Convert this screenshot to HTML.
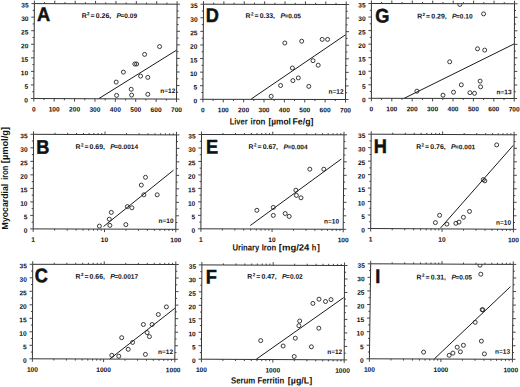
<!DOCTYPE html><html><head><meta charset="utf-8"><style>html,body{margin:0;padding:0;background:#fff;width:520px;height:387px;overflow:hidden}svg{display:block}text{font-family:"Liberation Sans",sans-serif;fill:#111}.b{font-weight:bold}</style></head><body>
<svg width="520" height="387" viewBox="0 0 520 387">
<rect width="520" height="387" fill="#fff"/>
<path d="M30.80 98.50H33.80M176.50 99.10H179.50M32.24 91.72H33.84M176.54 92.32H178.14M30.89 84.94H33.89M176.59 85.54H179.59M32.33 78.16H33.93M176.63 78.76H178.23M30.97 71.39H33.97M176.67 71.99H179.67M32.41 64.61H34.01M176.71 65.21H178.31M31.06 57.83H34.06M176.76 58.43H179.76M32.50 51.05H34.10M176.80 51.65H178.40M31.14 44.27H34.14M176.84 44.87H179.84M32.59 37.49H34.19M176.89 38.09H178.49M31.23 30.71H34.23M176.93 31.31H179.93M32.67 23.94H34.27M176.97 24.54H178.57M31.31 17.16H34.31M177.01 17.76H180.01M32.76 10.38H34.36M177.06 10.98H178.66M31.40 3.60H34.40M177.10 4.20H180.10M33.80 98.50V101.50M34.40 0.60V3.60M43.99 98.54V100.14M44.59 2.04V3.64M54.19 98.59V101.59M54.79 0.69V3.69M64.38 98.63V100.23M64.98 2.13V3.73M74.57 98.67V101.67M75.17 0.77V3.77M84.76 98.71V100.31M85.36 2.21V3.81M94.96 98.76V101.76M95.56 0.86V3.86M105.15 98.80V100.40M105.75 2.30V3.90M115.34 98.84V101.84M115.94 0.94V3.94M125.54 98.89V100.49M126.14 2.39V3.99M135.73 98.93V101.93M136.33 1.03V4.03M145.92 98.97V100.57M146.52 2.47V4.07M156.11 99.01V102.01M156.71 1.11V4.11M166.31 99.06V100.66M166.91 2.56V4.16M176.50 99.10V102.10M177.10 1.20V4.20" stroke="#333" stroke-width="0.9" fill="none"/>
<path d="M34.40 3.60L177.10 4.20L176.50 99.10L33.80 98.50Z" fill="none" stroke="#333" stroke-width="1.0"/>
<g transform="matrix(1,0.001,0,1,0,0)"><text x="28.00" y="102.372" font-size="6.60" class="b" text-anchor="end">0</text></g>
<g transform="matrix(1,0.001,0,1,0,0)"><text x="28.09" y="88.812" font-size="6.60" class="b" text-anchor="end">5</text></g>
<g transform="matrix(1,0.001,0,1,0,0)"><text x="28.17" y="75.262" font-size="6.60" class="b" text-anchor="end">10</text></g>
<g transform="matrix(1,0.001,0,1,0,0)"><text x="28.26" y="61.702" font-size="6.60" class="b" text-anchor="end">15</text></g>
<g transform="matrix(1,0.001,0,1,0,0)"><text x="28.34" y="48.142" font-size="6.60" class="b" text-anchor="end">20</text></g>
<g transform="matrix(1,0.001,0,1,0,0)"><text x="28.43" y="34.582" font-size="6.60" class="b" text-anchor="end">25</text></g>
<g transform="matrix(1,0.001,0,1,0,0)"><text x="28.51" y="21.031" font-size="6.60" class="b" text-anchor="end">30</text></g>
<g transform="matrix(1,0.001,0,1,0,0)"><text x="28.60" y="7.471" font-size="6.60" class="b" text-anchor="end">35</text></g>
<g transform="matrix(1,0.001,0,1,0,0)"><text x="33.80" y="111.366" font-size="6.60" class="b" text-anchor="middle">0</text></g>
<g transform="matrix(1,0.001,0,1,0,0)"><text x="54.19" y="111.436" font-size="6.60" class="b" text-anchor="middle">100</text></g>
<g transform="matrix(1,0.001,0,1,0,0)"><text x="74.57" y="111.495" font-size="6.60" class="b" text-anchor="middle">200</text></g>
<g transform="matrix(1,0.001,0,1,0,0)"><text x="94.96" y="111.565" font-size="6.60" class="b" text-anchor="middle">300</text></g>
<g transform="matrix(1,0.001,0,1,0,0)"><text x="115.34" y="111.625" font-size="6.60" class="b" text-anchor="middle">400</text></g>
<g transform="matrix(1,0.001,0,1,0,0)"><text x="135.73" y="111.694" font-size="6.60" class="b" text-anchor="middle">500</text></g>
<g transform="matrix(1,0.001,0,1,0,0)"><text x="156.11" y="111.754" font-size="6.60" class="b" text-anchor="middle">600</text></g>
<g transform="matrix(1,0.001,0,1,0,0)"><text x="176.50" y="111.823" font-size="6.60" class="b" text-anchor="middle">700</text></g>
<g transform="matrix(1,0.001,0,1,0,0)"><text x="43.65" y="20.856" font-size="19.80" font-weight="bold" stroke="#111" stroke-width="0.5" text-anchor="middle" transform="matrix(0.920,0,0,1,3.492,0)">A</text></g>
<g transform="matrix(1,0.001,0,1,0,0)"><text y="17.818" font-size="6.90" class="b"><tspan x="81.70">R</tspan><tspan x="87.10" dy="-2.6" font-size="4.55">2</tspan><tspan x="90.60" dy="2.6">=</tspan><tspan x="95.80">0.26,</tspan><tspan x="116.50" font-style="italic">P</tspan><tspan x="120.50" font-size="6.55">=0.09</tspan></text></g>
<g transform="matrix(1,0.001,0,1,0,0)"><text x="175.30" y="92.925" font-size="6.50" class="b" text-anchor="end">n=12</text></g>
<line x1="98.80" y1="98.60" x2="176.50" y2="50.20" stroke="#1a1a1a" stroke-width="1"/>
<clipPath id="cA"><path d="M34.40 3.60L177.10 4.20L176.50 99.10L33.80 98.50Z"/></clipPath><g clip-path="url(#cA)">
<circle cx="159.60" cy="46.60" r="2.0" fill="none" stroke="#1a1a1a" stroke-width="0.85"/>
<circle cx="144.60" cy="54.40" r="2.0" fill="none" stroke="#1a1a1a" stroke-width="0.85"/>
<circle cx="134.80" cy="64.00" r="2.0" fill="none" stroke="#1a1a1a" stroke-width="0.85"/>
<circle cx="136.60" cy="64.00" r="2.0" fill="none" stroke="#1a1a1a" stroke-width="0.85"/>
<circle cx="123.40" cy="72.10" r="2.0" fill="none" stroke="#1a1a1a" stroke-width="0.85"/>
<circle cx="140.60" cy="76.10" r="2.0" fill="none" stroke="#1a1a1a" stroke-width="0.85"/>
<circle cx="147.80" cy="77.40" r="2.0" fill="none" stroke="#1a1a1a" stroke-width="0.85"/>
<circle cx="116.20" cy="82.10" r="2.0" fill="none" stroke="#1a1a1a" stroke-width="0.85"/>
<circle cx="131.20" cy="89.30" r="2.0" fill="none" stroke="#1a1a1a" stroke-width="0.85"/>
<circle cx="116.60" cy="95.40" r="2.0" fill="none" stroke="#1a1a1a" stroke-width="0.85"/>
<circle cx="131.60" cy="95.10" r="2.0" fill="none" stroke="#1a1a1a" stroke-width="0.85"/>
<circle cx="147.80" cy="94.30" r="2.0" fill="none" stroke="#1a1a1a" stroke-width="0.85"/>
</g>
<path d="M199.90 99.30H202.90M345.50 99.50H348.50M201.34 92.51H202.94M345.55 92.71H347.15M199.99 85.71H202.99M345.60 85.93H348.60M201.43 78.92H203.03M345.65 79.14H347.25M200.07 72.13H203.07M345.70 72.36H348.70M201.51 65.34H203.11M345.75 65.57H347.35M200.16 58.54H203.16M345.80 58.79H348.80M201.60 51.75H203.20M345.85 52.00H347.45M200.24 44.96H203.24M345.90 45.21H348.90M201.69 38.16H203.29M345.95 38.43H347.55M200.33 31.37H203.33M346.00 31.64H349.00M201.77 24.58H203.37M346.05 24.86H347.65M200.41 17.79H203.41M346.10 18.07H349.10M201.86 10.99H203.46M346.15 11.29H347.75M200.50 4.20H203.50M346.20 4.50H349.20M202.90 99.30V102.30M203.50 1.20V4.20M213.09 99.31V100.91M213.69 2.62V4.22M223.27 99.33V102.33M223.89 1.24V4.24M233.46 99.34V100.94M234.08 2.66V4.26M243.64 99.36V102.36M244.27 1.29V4.29M253.83 99.37V100.97M254.46 2.71V4.31M264.01 99.39V102.39M264.66 1.33V4.33M274.20 99.40V101.00M274.85 2.75V4.35M284.39 99.41V102.41M285.04 1.37V4.37M294.57 99.43V101.03M295.24 2.79V4.39M304.76 99.44V102.44M305.43 1.41V4.41M314.94 99.46V101.06M315.62 2.84V4.44M325.13 99.47V102.47M325.81 1.46V4.46M335.31 99.49V101.09M336.01 2.88V4.48M345.50 99.50V102.50M346.20 1.50V4.50" stroke="#333" stroke-width="0.9" fill="none"/>
<path d="M203.50 4.20L346.20 4.50L345.50 99.50L202.90 99.30Z" fill="none" stroke="#333" stroke-width="1.0"/>
<g transform="matrix(1,0.001,0,1,0,0)"><text x="197.10" y="103.003" font-size="6.60" class="b" text-anchor="end">0</text></g>
<g transform="matrix(1,0.001,0,1,0,0)"><text x="197.19" y="89.413" font-size="6.60" class="b" text-anchor="end">5</text></g>
<g transform="matrix(1,0.001,0,1,0,0)"><text x="197.27" y="75.833" font-size="6.60" class="b" text-anchor="end">10</text></g>
<g transform="matrix(1,0.001,0,1,0,0)"><text x="197.36" y="62.243" font-size="6.60" class="b" text-anchor="end">15</text></g>
<g transform="matrix(1,0.001,0,1,0,0)"><text x="197.44" y="48.663" font-size="6.60" class="b" text-anchor="end">20</text></g>
<g transform="matrix(1,0.001,0,1,0,0)"><text x="197.53" y="35.072" font-size="6.60" class="b" text-anchor="end">25</text></g>
<g transform="matrix(1,0.001,0,1,0,0)"><text x="197.61" y="21.492" font-size="6.60" class="b" text-anchor="end">30</text></g>
<g transform="matrix(1,0.001,0,1,0,0)"><text x="197.70" y="7.902" font-size="6.60" class="b" text-anchor="end">35</text></g>
<g transform="matrix(1,0.001,0,1,0,0)"><text x="202.90" y="111.997" font-size="6.60" class="b" text-anchor="middle">0</text></g>
<g transform="matrix(1,0.001,0,1,0,0)"><text x="223.27" y="112.007" font-size="6.60" class="b" text-anchor="middle">100</text></g>
<g transform="matrix(1,0.001,0,1,0,0)"><text x="243.64" y="112.016" font-size="6.60" class="b" text-anchor="middle">200</text></g>
<g transform="matrix(1,0.001,0,1,0,0)"><text x="264.01" y="112.026" font-size="6.60" class="b" text-anchor="middle">300</text></g>
<g transform="matrix(1,0.001,0,1,0,0)"><text x="284.39" y="112.026" font-size="6.60" class="b" text-anchor="middle">400</text></g>
<g transform="matrix(1,0.001,0,1,0,0)"><text x="304.76" y="112.035" font-size="6.60" class="b" text-anchor="middle">500</text></g>
<g transform="matrix(1,0.001,0,1,0,0)"><text x="325.13" y="112.045" font-size="6.60" class="b" text-anchor="middle">600</text></g>
<g transform="matrix(1,0.001,0,1,0,0)"><text x="345.50" y="112.055" font-size="6.60" class="b" text-anchor="middle">700</text></g>
<g transform="matrix(1,0.001,0,1,0,0)"><text x="212.35" y="21.688" font-size="19.80" font-weight="bold" stroke="#111" stroke-width="0.5" text-anchor="middle" transform="matrix(0.920,0,0,1,16.988,0)">D</text></g>
<g transform="matrix(1,0.001,0,1,0,0)"><text y="17.854" font-size="6.90" class="b"><tspan x="245.60">R</tspan><tspan x="251.00" dy="-2.6" font-size="4.55">2</tspan><tspan x="254.50" dy="2.6">=</tspan><tspan x="259.70">0.33,</tspan><tspan x="280.40" font-style="italic">P</tspan><tspan x="284.40" font-size="6.55">=0.05</tspan></text></g>
<g transform="matrix(1,0.001,0,1,0,0)"><text x="343.50" y="93.456" font-size="6.50" class="b" text-anchor="end">n=12</text></g>
<line x1="251.20" y1="99.00" x2="345.50" y2="34.80" stroke="#1a1a1a" stroke-width="1"/>
<clipPath id="cD"><path d="M203.50 4.20L346.20 4.50L345.50 99.50L202.90 99.30Z"/></clipPath><g clip-path="url(#cD)">
<circle cx="284.80" cy="43.00" r="2.0" fill="none" stroke="#1a1a1a" stroke-width="0.85"/>
<circle cx="301.70" cy="41.20" r="2.0" fill="none" stroke="#1a1a1a" stroke-width="0.85"/>
<circle cx="322.20" cy="39.40" r="2.0" fill="none" stroke="#1a1a1a" stroke-width="0.85"/>
<circle cx="327.60" cy="39.40" r="2.0" fill="none" stroke="#1a1a1a" stroke-width="0.85"/>
<circle cx="313.00" cy="60.70" r="2.0" fill="none" stroke="#1a1a1a" stroke-width="0.85"/>
<circle cx="318.20" cy="65.20" r="2.0" fill="none" stroke="#1a1a1a" stroke-width="0.85"/>
<circle cx="292.40" cy="68.00" r="2.0" fill="none" stroke="#1a1a1a" stroke-width="0.85"/>
<circle cx="298.30" cy="77.90" r="2.0" fill="none" stroke="#1a1a1a" stroke-width="0.85"/>
<circle cx="292.90" cy="80.60" r="2.0" fill="none" stroke="#1a1a1a" stroke-width="0.85"/>
<circle cx="280.60" cy="85.50" r="2.0" fill="none" stroke="#1a1a1a" stroke-width="0.85"/>
<circle cx="308.80" cy="86.40" r="2.0" fill="none" stroke="#1a1a1a" stroke-width="0.85"/>
<circle cx="271.20" cy="96.30" r="2.0" fill="none" stroke="#1a1a1a" stroke-width="0.85"/>
</g>
<path d="M368.40 98.30H371.40M514.20 98.50H517.20M369.80 91.53H371.40M514.22 91.73H515.82M368.40 84.76H371.40M514.24 84.96H517.24M369.80 77.99H371.40M514.26 78.20H515.86M368.40 71.21H371.40M514.29 71.43H517.29M369.80 64.44H371.40M514.31 64.66H515.91M368.40 57.67H371.40M514.33 57.89H517.33M369.80 50.90H371.40M514.35 51.12H515.95M368.40 44.13H371.40M514.37 44.36H517.37M369.80 37.36H371.40M514.39 37.59H515.99M368.40 30.59H371.40M514.41 30.82H517.41M369.80 23.81H371.40M514.44 24.05H516.04M368.40 17.04H371.40M514.46 17.29H517.46M369.80 10.27H371.40M514.48 10.52H516.08M368.40 3.50H371.40M514.50 3.75H517.50M371.40 98.30V101.30M371.40 0.50V3.50M381.60 98.31V99.91M381.62 1.92V3.52M391.80 98.33V101.33M391.84 0.54V3.54M402.00 98.34V99.94M402.06 1.95V3.55M412.20 98.36V101.36M412.29 0.57V3.57M422.40 98.37V99.97M422.51 1.99V3.59M432.60 98.39V101.39M432.73 0.61V3.61M442.80 98.40V100.00M442.95 2.02V3.62M453.00 98.41V101.41M453.17 0.64V3.64M463.20 98.43V100.03M463.39 2.06V3.66M473.40 98.44V101.44M473.61 0.68V3.68M483.60 98.46V100.06M483.84 2.10V3.70M493.80 98.47V101.47M494.06 0.71V3.71M504.00 98.49V100.09M504.28 2.13V3.73M514.20 98.50V101.50M514.50 0.75V3.75" stroke="#333" stroke-width="0.9" fill="none"/>
<path d="M371.40 3.50L514.50 3.75L514.20 98.50L371.40 98.30Z" fill="none" stroke="#333" stroke-width="1.0"/>
<g transform="matrix(1,0.001,0,1,0,0)"><text x="365.60" y="101.834" font-size="6.60" class="b" text-anchor="end">0</text></g>
<g transform="matrix(1,0.001,0,1,0,0)"><text x="365.60" y="88.294" font-size="6.60" class="b" text-anchor="end">5</text></g>
<g transform="matrix(1,0.001,0,1,0,0)"><text x="365.60" y="74.744" font-size="6.60" class="b" text-anchor="end">10</text></g>
<g transform="matrix(1,0.001,0,1,0,0)"><text x="365.60" y="61.204" font-size="6.60" class="b" text-anchor="end">15</text></g>
<g transform="matrix(1,0.001,0,1,0,0)"><text x="365.60" y="47.664" font-size="6.60" class="b" text-anchor="end">20</text></g>
<g transform="matrix(1,0.001,0,1,0,0)"><text x="365.60" y="34.124" font-size="6.60" class="b" text-anchor="end">25</text></g>
<g transform="matrix(1,0.001,0,1,0,0)"><text x="365.60" y="20.574" font-size="6.60" class="b" text-anchor="end">30</text></g>
<g transform="matrix(1,0.001,0,1,0,0)"><text x="365.60" y="7.034" font-size="6.60" class="b" text-anchor="end">35</text></g>
<g transform="matrix(1,0.001,0,1,0,0)"><text x="371.40" y="110.829" font-size="6.60" class="b" text-anchor="middle">0</text></g>
<g transform="matrix(1,0.001,0,1,0,0)"><text x="391.80" y="110.838" font-size="6.60" class="b" text-anchor="middle">100</text></g>
<g transform="matrix(1,0.001,0,1,0,0)"><text x="412.20" y="110.848" font-size="6.60" class="b" text-anchor="middle">200</text></g>
<g transform="matrix(1,0.001,0,1,0,0)"><text x="432.60" y="110.857" font-size="6.60" class="b" text-anchor="middle">300</text></g>
<g transform="matrix(1,0.001,0,1,0,0)"><text x="453.00" y="110.857" font-size="6.60" class="b" text-anchor="middle">400</text></g>
<g transform="matrix(1,0.001,0,1,0,0)"><text x="473.40" y="110.867" font-size="6.60" class="b" text-anchor="middle">500</text></g>
<g transform="matrix(1,0.001,0,1,0,0)"><text x="493.80" y="110.876" font-size="6.60" class="b" text-anchor="middle">600</text></g>
<g transform="matrix(1,0.001,0,1,0,0)"><text x="514.20" y="110.886" font-size="6.60" class="b" text-anchor="middle">700</text></g>
<g transform="matrix(1,0.001,0,1,0,0)"><text x="382.40" y="22.218" font-size="19.80" font-weight="bold" stroke="#111" stroke-width="0.5" text-anchor="middle" transform="matrix(0.920,0,0,1,30.592,0)">G</text></g>
<g transform="matrix(1,0.001,0,1,0,0)"><text y="18.083" font-size="6.90" class="b"><tspan x="417.20">R</tspan><tspan x="422.60" dy="-2.6" font-size="4.55">2</tspan><tspan x="426.10" dy="2.6">=</tspan><tspan x="431.30">0.29,</tspan><tspan x="452.00" font-style="italic">P</tspan><tspan x="456.00" font-size="6.55">=0.10</tspan></text></g>
<g transform="matrix(1,0.001,0,1,0,0)"><text x="511.50" y="93.689" font-size="6.50" class="b" text-anchor="end">n=13</text></g>
<line x1="404.20" y1="98.30" x2="514.20" y2="43.90" stroke="#1a1a1a" stroke-width="1"/>
<clipPath id="cG"><path d="M371.40 3.50L514.50 3.75L514.20 98.50L371.40 98.30Z"/></clipPath><g clip-path="url(#cG)">
<circle cx="459.80" cy="4.40" r="2.0" fill="none" stroke="#1a1a1a" stroke-width="0.85"/>
<circle cx="483.60" cy="13.90" r="2.0" fill="none" stroke="#1a1a1a" stroke-width="0.85"/>
<circle cx="477.50" cy="48.80" r="2.0" fill="none" stroke="#1a1a1a" stroke-width="0.85"/>
<circle cx="484.70" cy="50.10" r="2.0" fill="none" stroke="#1a1a1a" stroke-width="0.85"/>
<circle cx="449.70" cy="61.80" r="2.0" fill="none" stroke="#1a1a1a" stroke-width="0.85"/>
<circle cx="480.10" cy="81.10" r="2.0" fill="none" stroke="#1a1a1a" stroke-width="0.85"/>
<circle cx="461.30" cy="84.80" r="2.0" fill="none" stroke="#1a1a1a" stroke-width="0.85"/>
<circle cx="480.60" cy="86.80" r="2.0" fill="none" stroke="#1a1a1a" stroke-width="0.85"/>
<circle cx="416.90" cy="91.20" r="2.0" fill="none" stroke="#1a1a1a" stroke-width="0.85"/>
<circle cx="453.50" cy="92.20" r="2.0" fill="none" stroke="#1a1a1a" stroke-width="0.85"/>
<circle cx="469.90" cy="92.70" r="2.0" fill="none" stroke="#1a1a1a" stroke-width="0.85"/>
<circle cx="474.50" cy="93.30" r="2.0" fill="none" stroke="#1a1a1a" stroke-width="0.85"/>
<circle cx="443.00" cy="95.20" r="2.0" fill="none" stroke="#1a1a1a" stroke-width="0.85"/>
</g>
<path d="M30.20 228.90H33.20M175.80 229.30H178.80M31.62 222.14H33.22M175.85 222.56H177.45M30.24 215.39H33.24M175.90 215.81H178.90M31.66 208.63H33.26M175.95 209.07H177.55M30.29 201.87H33.29M176.00 202.33H179.00M31.71 195.11H33.31M176.05 195.59H177.65M30.33 188.36H33.33M176.10 188.84H179.10M31.75 181.60H33.35M176.15 182.10H177.75M30.37 174.84H33.37M176.20 175.36H179.20M31.79 168.09H33.39M176.25 168.61H177.85M30.41 161.33H33.41M176.30 161.87H179.30M31.84 154.57H33.44M176.35 155.13H177.95M30.46 147.81H33.46M176.40 148.39H179.40M31.88 141.06H33.48M176.45 141.64H178.05M30.50 134.30H33.50M176.50 134.90H179.50M33.20 228.90V231.90M33.50 131.30V134.30M54.66 228.96V230.56M55.02 132.79V134.39M67.22 229.00V230.60M67.61 132.84V134.44M76.13 229.02V230.62M76.55 132.88V134.48M83.04 229.04V230.64M83.48 132.91V134.51M88.68 229.06V230.66M89.14 132.93V134.53M93.46 229.07V230.67M93.92 132.95V134.55M97.59 229.08V230.68M98.07 132.97V134.57M101.24 229.09V230.69M101.73 132.99V134.59M104.50 229.10V232.10M105.00 131.60V134.60M125.96 229.16V230.76M126.52 133.09V134.69M138.52 229.20V230.80M139.11 133.14V134.74M147.43 229.22V230.82M148.05 133.18V134.78M154.34 229.24V230.84M154.98 133.21V134.81M159.98 229.26V230.86M160.64 133.23V134.83M164.76 229.27V230.87M165.42 133.25V134.85M168.89 229.28V230.88M169.57 133.27V134.87M172.54 229.29V230.89M173.23 133.29V134.89M175.80 229.30V232.30M176.50 131.90V134.90" stroke="#333" stroke-width="0.9" fill="none"/>
<path d="M33.50 134.30L176.50 134.90L175.80 229.30L33.20 228.90Z" fill="none" stroke="#333" stroke-width="1.0"/>
<g transform="matrix(1,0.001,0,1,0,0)"><text x="27.40" y="232.773" font-size="6.60" class="b" text-anchor="end">0</text></g>
<g transform="matrix(1,0.001,0,1,0,0)"><text x="27.44" y="219.263" font-size="6.60" class="b" text-anchor="end">5</text></g>
<g transform="matrix(1,0.001,0,1,0,0)"><text x="27.49" y="205.743" font-size="6.60" class="b" text-anchor="end">10</text></g>
<g transform="matrix(1,0.001,0,1,0,0)"><text x="27.53" y="192.232" font-size="6.60" class="b" text-anchor="end">15</text></g>
<g transform="matrix(1,0.001,0,1,0,0)"><text x="27.57" y="178.712" font-size="6.60" class="b" text-anchor="end">20</text></g>
<g transform="matrix(1,0.001,0,1,0,0)"><text x="27.61" y="165.202" font-size="6.60" class="b" text-anchor="end">25</text></g>
<g transform="matrix(1,0.001,0,1,0,0)"><text x="27.66" y="151.682" font-size="6.60" class="b" text-anchor="end">30</text></g>
<g transform="matrix(1,0.001,0,1,0,0)"><text x="27.70" y="138.172" font-size="6.60" class="b" text-anchor="end">35</text></g>
<g transform="matrix(1,0.001,0,1,0,0)"><text x="33.20" y="241.767" font-size="6.60" class="b" text-anchor="middle">1</text></g>
<g transform="matrix(1,0.001,0,1,0,0)"><text x="104.50" y="241.895" font-size="6.60" class="b" text-anchor="middle">10</text></g>
<g transform="matrix(1,0.001,0,1,0,0)"><text x="175.80" y="242.024" font-size="6.60" class="b" text-anchor="middle">100</text></g>
<g transform="matrix(1,0.001,0,1,0,0)"><text x="42.75" y="153.657" font-size="19.80" font-weight="bold" stroke="#111" stroke-width="0.5" text-anchor="middle" transform="matrix(0.920,0,0,1,3.420,0)">B</text></g>
<g transform="matrix(1,0.001,0,1,0,0)"><text y="148.924" font-size="6.90" class="b"><tspan x="75.50">R</tspan><tspan x="80.90" dy="-2.6" font-size="4.55">2</tspan><tspan x="84.40" dy="2.6">=</tspan><tspan x="89.60">0.69,</tspan><tspan x="110.30" font-style="italic">P</tspan><tspan x="114.30" font-size="6.55">=0.0014</tspan></text></g>
<g transform="matrix(1,0.001,0,1,0,0)"><text x="173.60" y="222.826" font-size="6.50" class="b" text-anchor="end">n=10</text></g>
<line x1="103.60" y1="226.50" x2="173.50" y2="170.20" stroke="#1a1a1a" stroke-width="1"/>
<clipPath id="cB"><path d="M33.50 134.30L176.50 134.90L175.80 229.30L33.20 228.90Z"/></clipPath><g clip-path="url(#cB)">
<circle cx="145.50" cy="177.30" r="2.0" fill="none" stroke="#1a1a1a" stroke-width="0.85"/>
<circle cx="141.30" cy="185.10" r="2.0" fill="none" stroke="#1a1a1a" stroke-width="0.85"/>
<circle cx="143.90" cy="194.80" r="2.0" fill="none" stroke="#1a1a1a" stroke-width="0.85"/>
<circle cx="157.20" cy="194.80" r="2.0" fill="none" stroke="#1a1a1a" stroke-width="0.85"/>
<circle cx="127.40" cy="206.60" r="2.0" fill="none" stroke="#1a1a1a" stroke-width="0.85"/>
<circle cx="131.90" cy="207.80" r="2.0" fill="none" stroke="#1a1a1a" stroke-width="0.85"/>
<circle cx="111.30" cy="212.40" r="2.0" fill="none" stroke="#1a1a1a" stroke-width="0.85"/>
<circle cx="109.30" cy="219.20" r="2.0" fill="none" stroke="#1a1a1a" stroke-width="0.85"/>
<circle cx="109.90" cy="225.40" r="2.0" fill="none" stroke="#1a1a1a" stroke-width="0.85"/>
<circle cx="99.40" cy="226.10" r="2.0" fill="none" stroke="#1a1a1a" stroke-width="0.85"/>
<circle cx="125.80" cy="224.60" r="2.0" fill="none" stroke="#1a1a1a" stroke-width="0.85"/>
</g>
<path d="M197.90 228.80H200.90M343.20 229.30H346.20M199.34 222.06H200.94M343.26 222.55H344.86M197.99 215.33H200.99M343.31 215.80H346.31M199.43 208.59H201.03M343.37 209.05H344.97M198.07 201.86H201.07M343.43 202.30H346.43M199.51 195.12H201.11M343.49 195.55H345.09M198.16 188.39H201.16M343.54 188.80H346.54M199.60 181.65H201.20M343.60 182.05H345.20M198.24 174.91H201.24M343.66 175.30H346.66M199.69 168.18H201.29M343.71 168.55H345.31M198.33 161.44H201.33M343.77 161.80H346.77M199.77 154.71H201.37M343.83 155.05H345.43M198.41 147.97H201.41M343.89 148.30H346.89M199.86 141.24H201.46M343.94 141.55H345.54M198.50 134.50H201.50M344.00 134.80H347.00M200.90 228.80V231.80M201.50 131.50V134.50M222.32 228.88V230.48M222.95 132.95V134.55M234.85 228.92V230.52M235.49 132.97V134.57M243.74 228.95V230.55M244.40 132.99V134.59M250.63 228.97V230.57M251.30 133.00V134.60M256.27 228.99V230.59M256.94 133.02V134.62M261.03 229.01V230.61M261.71 133.03V134.63M265.15 229.03V230.63M265.85 133.04V134.64M268.79 229.04V230.64M269.49 133.04V134.64M272.05 229.05V232.05M272.75 131.65V134.65M293.47 229.13V230.73M294.20 133.10V134.70M306.00 229.17V230.77M306.74 133.12V134.72M314.89 229.20V230.80M315.65 133.14V134.74M321.78 229.22V230.82M322.55 133.15V134.75M327.42 229.24V230.84M328.19 133.17V134.77M332.18 229.26V230.86M332.96 133.18V134.78M336.30 229.28V230.88M337.10 133.19V134.79M339.94 229.29V230.89M340.74 133.19V134.79M343.20 229.30V232.30M344.00 131.80V134.80" stroke="#333" stroke-width="0.9" fill="none"/>
<path d="M201.50 134.50L344.00 134.80L343.20 229.30L200.90 228.80Z" fill="none" stroke="#333" stroke-width="1.0"/>
<g transform="matrix(1,0.001,0,1,0,0)"><text x="195.10" y="232.505" font-size="6.60" class="b" text-anchor="end">0</text></g>
<g transform="matrix(1,0.001,0,1,0,0)"><text x="195.19" y="219.035" font-size="6.60" class="b" text-anchor="end">5</text></g>
<g transform="matrix(1,0.001,0,1,0,0)"><text x="195.27" y="205.565" font-size="6.60" class="b" text-anchor="end">10</text></g>
<g transform="matrix(1,0.001,0,1,0,0)"><text x="195.36" y="192.095" font-size="6.60" class="b" text-anchor="end">15</text></g>
<g transform="matrix(1,0.001,0,1,0,0)"><text x="195.44" y="178.615" font-size="6.60" class="b" text-anchor="end">20</text></g>
<g transform="matrix(1,0.001,0,1,0,0)"><text x="195.53" y="165.144" font-size="6.60" class="b" text-anchor="end">25</text></g>
<g transform="matrix(1,0.001,0,1,0,0)"><text x="195.61" y="151.674" font-size="6.60" class="b" text-anchor="end">30</text></g>
<g transform="matrix(1,0.001,0,1,0,0)"><text x="195.70" y="138.204" font-size="6.60" class="b" text-anchor="end">35</text></g>
<g transform="matrix(1,0.001,0,1,0,0)"><text x="200.90" y="241.499" font-size="6.60" class="b" text-anchor="middle">1</text></g>
<g transform="matrix(1,0.001,0,1,0,0)"><text x="272.05" y="241.678" font-size="6.60" class="b" text-anchor="middle">10</text></g>
<g transform="matrix(1,0.001,0,1,0,0)"><text x="343.20" y="241.857" font-size="6.60" class="b" text-anchor="middle">100</text></g>
<g transform="matrix(1,0.001,0,1,0,0)"><text x="212.20" y="153.188" font-size="19.80" font-weight="bold" stroke="#111" stroke-width="0.5" text-anchor="middle" transform="matrix(0.920,0,0,1,16.976,0)">E</text></g>
<g transform="matrix(1,0.001,0,1,0,0)"><text y="148.851" font-size="6.90" class="b"><tspan x="248.60">R</tspan><tspan x="254.00" dy="-2.6" font-size="4.55">2</tspan><tspan x="257.50" dy="2.6">=</tspan><tspan x="262.70">0.67,</tspan><tspan x="283.40" font-style="italic">P</tspan><tspan x="287.40" font-size="6.55">=0.004</tspan></text></g>
<g transform="matrix(1,0.001,0,1,0,0)"><text x="339.10" y="223.161" font-size="6.50" class="b" text-anchor="end">n=10</text></g>
<line x1="250.30" y1="225.50" x2="341.30" y2="159.00" stroke="#1a1a1a" stroke-width="1"/>
<clipPath id="cE"><path d="M201.50 134.50L344.00 134.80L343.20 229.30L200.90 228.80Z"/></clipPath><g clip-path="url(#cE)">
<circle cx="309.80" cy="169.20" r="2.0" fill="none" stroke="#1a1a1a" stroke-width="0.85"/>
<circle cx="323.80" cy="169.20" r="2.0" fill="none" stroke="#1a1a1a" stroke-width="0.85"/>
<circle cx="295.90" cy="190.20" r="2.0" fill="none" stroke="#1a1a1a" stroke-width="0.85"/>
<circle cx="296.40" cy="195.40" r="2.0" fill="none" stroke="#1a1a1a" stroke-width="0.85"/>
<circle cx="301.00" cy="197.80" r="2.0" fill="none" stroke="#1a1a1a" stroke-width="0.85"/>
<circle cx="256.90" cy="210.30" r="2.0" fill="none" stroke="#1a1a1a" stroke-width="0.85"/>
<circle cx="273.30" cy="207.40" r="2.0" fill="none" stroke="#1a1a1a" stroke-width="0.85"/>
<circle cx="273.30" cy="215.40" r="2.0" fill="none" stroke="#1a1a1a" stroke-width="0.85"/>
<circle cx="285.20" cy="213.50" r="2.0" fill="none" stroke="#1a1a1a" stroke-width="0.85"/>
<circle cx="289.20" cy="216.40" r="2.0" fill="none" stroke="#1a1a1a" stroke-width="0.85"/>
</g>
<path d="M367.70 228.50H370.70M513.40 229.30H516.40M369.14 221.76H370.74M513.45 222.55H515.05M367.77 215.03H370.77M513.50 215.80H516.50M369.21 208.29H370.81M513.55 209.05H515.15M367.84 201.56H370.84M513.60 202.30H516.60M369.28 194.82H370.88M513.65 195.55H515.25M367.91 188.09H370.91M513.70 188.80H516.70M369.35 181.35H370.95M513.75 182.05H515.35M367.99 174.61H370.99M513.80 175.30H516.80M369.42 167.88H371.02M513.85 168.55H515.45M368.06 161.14H371.06M513.90 161.80H516.90M369.49 154.41H371.09M513.95 155.05H515.55M368.13 147.67H371.13M514.00 148.30H517.00M369.56 140.94H371.16M514.05 141.55H515.65M368.20 134.20H371.20M514.10 134.80H517.10M370.70 228.50V231.50M371.20 131.20V134.20M392.18 228.62V230.22M392.71 132.69V134.29M404.74 228.69V230.29M405.29 132.74V134.34M413.66 228.74V230.34M414.22 132.78V134.38M420.57 228.78V230.38M421.14 132.81V134.41M426.22 228.81V230.41M426.80 132.83V134.43M431.00 228.84V230.44M431.58 132.85V134.45M435.14 228.86V230.46M435.73 132.87V134.47M438.79 228.88V230.48M439.38 132.89V134.49M442.05 228.90V231.90M442.65 131.50V134.50M463.53 229.02V230.62M464.16 132.99V134.59M476.09 229.09V230.69M476.74 133.04V134.64M485.01 229.14V230.74M485.67 133.08V134.68M491.92 229.18V230.78M492.59 133.11V134.71M497.57 229.21V230.81M498.25 133.13V134.73M502.35 229.24V230.84M503.03 133.15V134.75M506.49 229.26V230.86M507.18 133.17V134.77M510.14 229.28V230.88M510.83 133.19V134.79M513.40 229.30V232.30M514.10 131.80V134.80" stroke="#333" stroke-width="0.9" fill="none"/>
<path d="M371.20 134.20L514.10 134.80L513.40 229.30L370.70 228.50Z" fill="none" stroke="#333" stroke-width="1.0"/>
<g transform="matrix(1,0.001,0,1,0,0)"><text x="364.90" y="232.035" font-size="6.60" class="b" text-anchor="end">0</text></g>
<g transform="matrix(1,0.001,0,1,0,0)"><text x="364.97" y="218.565" font-size="6.60" class="b" text-anchor="end">5</text></g>
<g transform="matrix(1,0.001,0,1,0,0)"><text x="365.04" y="205.095" font-size="6.60" class="b" text-anchor="end">10</text></g>
<g transform="matrix(1,0.001,0,1,0,0)"><text x="365.11" y="191.625" font-size="6.60" class="b" text-anchor="end">15</text></g>
<g transform="matrix(1,0.001,0,1,0,0)"><text x="365.19" y="178.145" font-size="6.60" class="b" text-anchor="end">20</text></g>
<g transform="matrix(1,0.001,0,1,0,0)"><text x="365.26" y="164.675" font-size="6.60" class="b" text-anchor="end">25</text></g>
<g transform="matrix(1,0.001,0,1,0,0)"><text x="365.33" y="151.205" font-size="6.60" class="b" text-anchor="end">30</text></g>
<g transform="matrix(1,0.001,0,1,0,0)"><text x="365.40" y="137.735" font-size="6.60" class="b" text-anchor="end">35</text></g>
<g transform="matrix(1,0.001,0,1,0,0)"><text x="370.70" y="241.029" font-size="6.60" class="b" text-anchor="middle">1</text></g>
<g transform="matrix(1,0.001,0,1,0,0)"><text x="442.05" y="241.358" font-size="6.60" class="b" text-anchor="middle">10</text></g>
<g transform="matrix(1,0.001,0,1,0,0)"><text x="513.40" y="241.687" font-size="6.60" class="b" text-anchor="middle">100</text></g>
<g transform="matrix(1,0.001,0,1,0,0)"><text x="380.35" y="152.620" font-size="19.80" font-weight="bold" stroke="#111" stroke-width="0.5" text-anchor="middle" transform="matrix(0.920,0,0,1,30.428,0)">H</text></g>
<g transform="matrix(1,0.001,0,1,0,0)"><text y="148.684" font-size="6.90" class="b"><tspan x="416.20">R</tspan><tspan x="421.60" dy="-2.6" font-size="4.55">2</tspan><tspan x="425.10" dy="2.6">=</tspan><tspan x="430.30">0.76,</tspan><tspan x="451.00" font-style="italic">P</tspan><tspan x="455.00" font-size="6.55">=0.001</tspan></text></g>
<g transform="matrix(1,0.001,0,1,0,0)"><text x="511.00" y="224.189" font-size="6.50" class="b" text-anchor="end">n=10</text></g>
<line x1="440.60" y1="227.90" x2="513.30" y2="145.30" stroke="#1a1a1a" stroke-width="1"/>
<clipPath id="cH"><path d="M371.20 134.20L514.10 134.80L513.40 229.30L370.70 228.50Z"/></clipPath><g clip-path="url(#cH)">
<circle cx="496.70" cy="144.90" r="2.0" fill="none" stroke="#1a1a1a" stroke-width="0.85"/>
<circle cx="483.30" cy="179.60" r="2.0" fill="none" stroke="#1a1a1a" stroke-width="0.85"/>
<circle cx="484.80" cy="180.80" r="2.0" fill="none" stroke="#1a1a1a" stroke-width="0.85"/>
<circle cx="439.60" cy="215.30" r="2.0" fill="none" stroke="#1a1a1a" stroke-width="0.85"/>
<circle cx="469.50" cy="211.40" r="2.0" fill="none" stroke="#1a1a1a" stroke-width="0.85"/>
<circle cx="463.40" cy="217.30" r="2.0" fill="none" stroke="#1a1a1a" stroke-width="0.85"/>
<circle cx="435.40" cy="222.60" r="2.0" fill="none" stroke="#1a1a1a" stroke-width="0.85"/>
<circle cx="446.90" cy="224.10" r="2.0" fill="none" stroke="#1a1a1a" stroke-width="0.85"/>
<circle cx="455.90" cy="223.30" r="2.0" fill="none" stroke="#1a1a1a" stroke-width="0.85"/>
<circle cx="459.00" cy="222.10" r="2.0" fill="none" stroke="#1a1a1a" stroke-width="0.85"/>
</g>
<path d="M29.40 358.80H32.40M174.80 359.30H177.80M30.82 352.05H32.42M174.87 352.53H176.47M29.44 345.30H32.44M174.94 345.76H177.94M30.86 338.55H32.46M175.01 338.99H176.61M29.49 331.80H32.49M175.09 332.21H178.09M30.91 325.05H32.51M175.16 325.44H176.76M29.53 318.30H32.53M175.23 318.67H178.23M30.95 311.55H32.55M175.30 311.90H176.90M29.57 304.80H32.57M175.37 305.13H178.37M30.99 298.05H32.59M175.44 298.36H177.04M29.61 291.30H32.61M175.51 291.59H178.51M31.04 284.55H32.64M175.59 284.81H177.19M29.66 277.80H32.66M175.66 278.04H178.66M31.08 271.05H32.68M175.73 271.27H177.33M29.70 264.30H32.70M175.80 264.50H178.80M32.40 358.80V361.80M32.70 261.30V264.30M53.83 358.88V360.48M54.24 262.73V264.33M66.37 358.92V360.52M66.84 262.75V264.35M75.27 358.95V360.55M75.78 262.76V264.36M82.17 358.97V360.57M82.71 262.77V264.37M87.80 358.99V360.59M88.38 262.78V264.38M92.57 359.01V360.61M93.17 262.78V264.38M96.70 359.03V360.63M97.32 262.79V264.39M100.34 359.04V360.64M100.98 262.80V264.40M103.60 359.05V362.05M104.25 261.40V264.40M125.03 359.13V360.73M125.79 262.83V264.43M137.57 359.17V360.77M138.39 262.85V264.45M146.47 359.20V360.80M147.33 262.86V264.46M153.37 359.22V360.82M154.26 262.87V264.47M159.00 359.24V360.84M159.93 262.88V264.48M163.77 359.26V360.86M164.72 262.88V264.48M167.90 359.28V360.88M168.87 262.89V264.49M171.54 359.29V360.89M172.53 262.90V264.50M174.80 359.30V362.30M175.80 261.50V264.50" stroke="#333" stroke-width="0.9" fill="none"/>
<path d="M32.70 264.30L175.80 264.50L174.80 359.30L32.40 358.80Z" fill="none" stroke="#333" stroke-width="1.0"/>
<g transform="matrix(1,0.001,0,1,0,0)"><text x="26.60" y="362.673" font-size="6.60" class="b" text-anchor="end">0</text></g>
<g transform="matrix(1,0.001,0,1,0,0)"><text x="26.64" y="349.173" font-size="6.60" class="b" text-anchor="end">5</text></g>
<g transform="matrix(1,0.001,0,1,0,0)"><text x="26.69" y="335.673" font-size="6.60" class="b" text-anchor="end">10</text></g>
<g transform="matrix(1,0.001,0,1,0,0)"><text x="26.73" y="322.173" font-size="6.60" class="b" text-anchor="end">15</text></g>
<g transform="matrix(1,0.001,0,1,0,0)"><text x="26.77" y="308.673" font-size="6.60" class="b" text-anchor="end">20</text></g>
<g transform="matrix(1,0.001,0,1,0,0)"><text x="26.81" y="295.173" font-size="6.60" class="b" text-anchor="end">25</text></g>
<g transform="matrix(1,0.001,0,1,0,0)"><text x="26.86" y="281.673" font-size="6.60" class="b" text-anchor="end">30</text></g>
<g transform="matrix(1,0.001,0,1,0,0)"><text x="26.90" y="268.173" font-size="6.60" class="b" text-anchor="end">35</text></g>
<g transform="matrix(1,0.001,0,1,0,0)"><text x="32.40" y="371.668" font-size="6.60" class="b" text-anchor="middle">100</text></g>
<g transform="matrix(1,0.001,0,1,0,0)"><text x="103.60" y="371.846" font-size="6.60" class="b" text-anchor="middle">1000</text></g>
<g transform="matrix(1,0.001,0,1,0,0)"><text x="165.80" y="372.034" font-size="6.60" class="b" text-anchor="start">1000</text></g>
<g transform="matrix(1,0.001,0,1,0,0)"><text x="41.35" y="282.259" font-size="19.80" font-weight="bold" stroke="#111" stroke-width="0.5" text-anchor="middle" transform="matrix(0.920,0,0,1,3.308,0)">C</text></g>
<g transform="matrix(1,0.001,0,1,0,0)"><text y="278.625" font-size="6.90" class="b"><tspan x="75.50">R</tspan><tspan x="80.90" dy="-2.6" font-size="4.55">2</tspan><tspan x="84.40" dy="2.6">=</tspan><tspan x="89.60">0.66,</tspan><tspan x="110.30" font-style="italic">P</tspan><tspan x="114.30" font-size="6.55">=0.0017</tspan></text></g>
<g transform="matrix(1,0.001,0,1,0,0)"><text x="173.10" y="353.827" font-size="6.50" class="b" text-anchor="end">n=12</text></g>
<line x1="109.80" y1="359.00" x2="174.80" y2="308.30" stroke="#1a1a1a" stroke-width="1"/>
<clipPath id="cC"><path d="M32.70 264.30L175.80 264.50L174.80 359.30L32.40 358.80Z"/></clipPath><g clip-path="url(#cC)">
<circle cx="166.40" cy="306.90" r="2.0" fill="none" stroke="#1a1a1a" stroke-width="0.85"/>
<circle cx="158.30" cy="314.50" r="2.0" fill="none" stroke="#1a1a1a" stroke-width="0.85"/>
<circle cx="143.40" cy="324.50" r="2.0" fill="none" stroke="#1a1a1a" stroke-width="0.85"/>
<circle cx="152.10" cy="324.50" r="2.0" fill="none" stroke="#1a1a1a" stroke-width="0.85"/>
<circle cx="147.10" cy="332.60" r="2.0" fill="none" stroke="#1a1a1a" stroke-width="0.85"/>
<circle cx="149.40" cy="336.60" r="2.0" fill="none" stroke="#1a1a1a" stroke-width="0.85"/>
<circle cx="121.70" cy="337.70" r="2.0" fill="none" stroke="#1a1a1a" stroke-width="0.85"/>
<circle cx="132.60" cy="342.40" r="2.0" fill="none" stroke="#1a1a1a" stroke-width="0.85"/>
<circle cx="128.20" cy="349.30" r="2.0" fill="none" stroke="#1a1a1a" stroke-width="0.85"/>
<circle cx="111.80" cy="355.30" r="2.0" fill="none" stroke="#1a1a1a" stroke-width="0.85"/>
<circle cx="118.80" cy="356.20" r="2.0" fill="none" stroke="#1a1a1a" stroke-width="0.85"/>
<circle cx="145.40" cy="354.40" r="2.0" fill="none" stroke="#1a1a1a" stroke-width="0.85"/>
</g>
<path d="M198.40 359.20H201.40M344.20 359.90H347.20M199.84 352.46H201.44M344.22 353.16H345.82M198.47 345.73H201.47M344.24 346.41H347.24M199.91 338.99H201.51M344.26 339.67H345.86M198.54 332.26H201.54M344.29 332.93H347.29M199.98 325.52H201.58M344.31 326.19H345.91M198.61 318.79H201.61M344.33 319.44H347.33M200.05 312.05H201.65M344.35 312.70H345.95M198.69 305.31H201.69M344.37 305.96H347.37M200.12 298.58H201.72M344.39 299.21H345.99M198.76 291.84H201.76M344.41 292.47H347.41M200.19 285.11H201.79M344.44 285.73H346.04M198.83 278.37H201.83M344.46 278.99H347.46M200.26 271.64H201.86M344.48 272.24H346.08M198.90 264.90H201.90M344.50 265.50H347.50M201.40 359.20V362.20M201.90 261.90V264.90M222.89 359.31V360.91M223.36 263.39V264.99M235.47 359.37V360.97M235.92 263.44V265.04M244.39 359.41V361.01M244.83 263.48V265.08M251.31 359.44V361.04M251.74 263.51V265.11M256.96 359.47V361.07M257.38 263.53V265.13M261.74 359.50V361.10M262.16 263.55V265.15M265.88 359.52V361.12M266.29 263.57V265.17M269.53 359.53V361.13M269.94 263.59V265.19M272.80 359.55V362.55M273.20 262.20V265.20M294.29 359.66V361.26M294.66 263.69V265.29M306.87 359.72V361.32M307.22 263.74V265.34M315.79 359.76V361.36M316.13 263.78V265.38M322.71 359.79V361.39M323.04 263.81V265.41M328.36 359.82V361.42M328.68 263.83V265.43M333.14 359.85V361.45M333.46 263.85V265.45M337.28 359.87V361.47M337.59 263.87V265.47M340.93 359.88V361.48M341.24 263.89V265.49M344.20 359.90V362.90M344.50 262.50V265.50" stroke="#333" stroke-width="0.9" fill="none"/>
<path d="M201.90 264.90L344.50 265.50L344.20 359.90L201.40 359.20Z" fill="none" stroke="#333" stroke-width="1.0"/>
<g transform="matrix(1,0.001,0,1,0,0)"><text x="195.60" y="362.904" font-size="6.60" class="b" text-anchor="end">0</text></g>
<g transform="matrix(1,0.001,0,1,0,0)"><text x="195.67" y="349.434" font-size="6.60" class="b" text-anchor="end">5</text></g>
<g transform="matrix(1,0.001,0,1,0,0)"><text x="195.74" y="335.964" font-size="6.60" class="b" text-anchor="end">10</text></g>
<g transform="matrix(1,0.001,0,1,0,0)"><text x="195.81" y="322.494" font-size="6.60" class="b" text-anchor="end">15</text></g>
<g transform="matrix(1,0.001,0,1,0,0)"><text x="195.89" y="309.014" font-size="6.60" class="b" text-anchor="end">20</text></g>
<g transform="matrix(1,0.001,0,1,0,0)"><text x="195.96" y="295.544" font-size="6.60" class="b" text-anchor="end">25</text></g>
<g transform="matrix(1,0.001,0,1,0,0)"><text x="196.03" y="282.074" font-size="6.60" class="b" text-anchor="end">30</text></g>
<g transform="matrix(1,0.001,0,1,0,0)"><text x="196.10" y="268.604" font-size="6.60" class="b" text-anchor="end">35</text></g>
<g transform="matrix(1,0.001,0,1,0,0)"><text x="201.40" y="371.899" font-size="6.60" class="b" text-anchor="middle">100</text></g>
<g transform="matrix(1,0.001,0,1,0,0)"><text x="272.80" y="372.177" font-size="6.60" class="b" text-anchor="middle">1000</text></g>
<g transform="matrix(1,0.001,0,1,0,0)"><text x="335.20" y="372.465" font-size="6.60" class="b" text-anchor="start">1000</text></g>
<g transform="matrix(1,0.001,0,1,0,0)"><text x="211.25" y="283.289" font-size="19.80" font-weight="bold" stroke="#111" stroke-width="0.5" text-anchor="middle" transform="matrix(0.920,0,0,1,16.900,0)">F</text></g>
<g transform="matrix(1,0.001,0,1,0,0)"><text y="278.553" font-size="6.90" class="b"><tspan x="247.30">R</tspan><tspan x="252.70" dy="-2.6" font-size="4.55">2</tspan><tspan x="256.20" dy="2.6">=</tspan><tspan x="261.40">0.47,</tspan><tspan x="282.10" font-style="italic">P</tspan><tspan x="286.10" font-size="6.55">=0.02</tspan></text></g>
<g transform="matrix(1,0.001,0,1,0,0)"><text x="342.20" y="353.658" font-size="6.50" class="b" text-anchor="end">n=12</text></g>
<line x1="256.30" y1="359.20" x2="343.70" y2="297.60" stroke="#1a1a1a" stroke-width="1"/>
<clipPath id="cF"><path d="M201.90 264.90L344.50 265.50L344.20 359.90L201.40 359.20Z"/></clipPath><g clip-path="url(#cF)">
<circle cx="319.00" cy="299.20" r="2.0" fill="none" stroke="#1a1a1a" stroke-width="0.85"/>
<circle cx="312.90" cy="303.40" r="2.0" fill="none" stroke="#1a1a1a" stroke-width="0.85"/>
<circle cx="325.50" cy="301.50" r="2.0" fill="none" stroke="#1a1a1a" stroke-width="0.85"/>
<circle cx="331.00" cy="299.60" r="2.0" fill="none" stroke="#1a1a1a" stroke-width="0.85"/>
<circle cx="299.70" cy="321.00" r="2.0" fill="none" stroke="#1a1a1a" stroke-width="0.85"/>
<circle cx="298.90" cy="325.70" r="2.0" fill="none" stroke="#1a1a1a" stroke-width="0.85"/>
<circle cx="318.80" cy="328.20" r="2.0" fill="none" stroke="#1a1a1a" stroke-width="0.85"/>
<circle cx="295.30" cy="338.20" r="2.0" fill="none" stroke="#1a1a1a" stroke-width="0.85"/>
<circle cx="260.70" cy="340.60" r="2.0" fill="none" stroke="#1a1a1a" stroke-width="0.85"/>
<circle cx="283.10" cy="346.00" r="2.0" fill="none" stroke="#1a1a1a" stroke-width="0.85"/>
<circle cx="311.40" cy="346.80" r="2.0" fill="none" stroke="#1a1a1a" stroke-width="0.85"/>
<circle cx="294.20" cy="356.50" r="2.0" fill="none" stroke="#1a1a1a" stroke-width="0.85"/>
</g>
<path d="M366.40 358.80H369.40M512.40 359.30H515.40M367.89 352.01H369.49M512.46 352.52H514.06M366.59 345.23H369.59M512.53 345.74H515.53M368.08 338.44H369.68M512.59 338.96H514.19M366.77 331.66H369.77M512.66 332.19H515.66M368.26 324.87H369.86M512.72 325.41H514.32M366.96 318.09H369.96M512.79 318.63H515.79M368.45 311.30H370.05M512.85 311.85H514.45M367.14 304.51H370.14M512.91 305.07H515.91M368.64 297.73H370.24M512.98 298.29H514.58M367.33 290.94H370.33M513.04 291.51H516.04M368.82 284.16H370.42M513.11 284.74H514.71M367.51 277.37H370.51M513.17 277.96H516.17M369.01 270.59H370.61M513.24 271.18H514.84M367.70 263.80H370.70M513.30 264.40H516.30M369.40 358.80V361.80M370.70 260.80V263.80M390.92 358.88V360.48M392.16 262.29V263.89M403.51 358.92V360.52M404.72 262.34V263.94M412.45 358.95V360.55M413.63 262.38V263.98M419.38 358.97V360.57M420.54 262.41V264.01M425.04 358.99V360.59M426.18 262.43V264.03M429.82 359.01V360.61M430.96 262.45V264.05M433.97 359.03V360.63M435.09 262.47V264.07M437.63 359.04V360.64M438.74 262.49V264.09M440.90 359.05V362.05M442.00 261.10V264.10M462.42 359.13V360.73M463.46 262.59V264.19M475.01 359.17V360.77M476.02 262.64V264.24M483.95 359.20V360.80M484.93 262.68V264.28M490.88 359.22V360.82M491.84 262.71V264.31M496.54 359.24V360.84M497.48 262.73V264.33M501.32 359.26V360.86M502.26 262.75V264.35M505.47 359.28V360.88M506.39 262.77V264.37M509.13 359.29V360.89M510.04 262.79V264.39M512.40 359.30V362.30M513.30 261.40V264.40" stroke="#333" stroke-width="0.9" fill="none"/>
<path d="M370.70 263.80L513.30 264.40L512.40 359.30L369.40 358.80Z" fill="none" stroke="#333" stroke-width="1.0"/>
<g transform="matrix(1,0.001,0,1,0,0)"><text x="363.60" y="362.336" font-size="6.60" class="b" text-anchor="end">0</text></g>
<g transform="matrix(1,0.001,0,1,0,0)"><text x="363.79" y="348.766" font-size="6.60" class="b" text-anchor="end">5</text></g>
<g transform="matrix(1,0.001,0,1,0,0)"><text x="363.97" y="335.196" font-size="6.60" class="b" text-anchor="end">10</text></g>
<g transform="matrix(1,0.001,0,1,0,0)"><text x="364.16" y="321.626" font-size="6.60" class="b" text-anchor="end">15</text></g>
<g transform="matrix(1,0.001,0,1,0,0)"><text x="364.34" y="308.046" font-size="6.60" class="b" text-anchor="end">20</text></g>
<g transform="matrix(1,0.001,0,1,0,0)"><text x="364.53" y="294.475" font-size="6.60" class="b" text-anchor="end">25</text></g>
<g transform="matrix(1,0.001,0,1,0,0)"><text x="364.71" y="280.905" font-size="6.60" class="b" text-anchor="end">30</text></g>
<g transform="matrix(1,0.001,0,1,0,0)"><text x="364.90" y="267.335" font-size="6.60" class="b" text-anchor="end">35</text></g>
<g transform="matrix(1,0.001,0,1,0,0)"><text x="369.40" y="371.331" font-size="6.60" class="b" text-anchor="middle">100</text></g>
<g transform="matrix(1,0.001,0,1,0,0)"><text x="440.90" y="371.509" font-size="6.60" class="b" text-anchor="middle">1000</text></g>
<g transform="matrix(1,0.001,0,1,0,0)"><text x="503.40" y="371.697" font-size="6.60" class="b" text-anchor="start">1000</text></g>
<g transform="matrix(1,0.001,0,1,0,0)"><text x="377.75" y="282.622" font-size="19.80" font-weight="bold" stroke="#111" stroke-width="0.5" text-anchor="middle" transform="matrix(0.920,0,0,1,30.220,0)">I</text></g>
<g transform="matrix(1,0.001,0,1,0,0)"><text y="278.983" font-size="6.90" class="b"><tspan x="416.60">R</tspan><tspan x="422.00" dy="-2.6" font-size="4.55">2</tspan><tspan x="425.50" dy="2.6">=</tspan><tspan x="430.70">0.31,</tspan><tspan x="451.40" font-style="italic">P</tspan><tspan x="455.40" font-size="6.55">=0.05</tspan></text></g>
<g transform="matrix(1,0.001,0,1,0,0)"><text x="510.00" y="353.290" font-size="6.50" class="b" text-anchor="end">n=13</text></g>
<line x1="434.40" y1="358.80" x2="510.50" y2="286.60" stroke="#1a1a1a" stroke-width="1"/>
<clipPath id="cI"><path d="M370.70 263.80L513.30 264.40L512.40 359.30L369.40 358.80Z"/></clipPath><g clip-path="url(#cI)">
<circle cx="480.00" cy="265.20" r="2.0" fill="none" stroke="#1a1a1a" stroke-width="0.85"/>
<circle cx="480.80" cy="274.20" r="2.0" fill="none" stroke="#1a1a1a" stroke-width="0.85"/>
<circle cx="482.20" cy="309.70" r="2.0" fill="none" stroke="#1a1a1a" stroke-width="0.85"/>
<circle cx="482.80" cy="309.90" r="2.0" fill="none" stroke="#1a1a1a" stroke-width="0.85"/>
<circle cx="475.20" cy="322.30" r="2.0" fill="none" stroke="#1a1a1a" stroke-width="0.85"/>
<circle cx="481.40" cy="341.10" r="2.0" fill="none" stroke="#1a1a1a" stroke-width="0.85"/>
<circle cx="463.40" cy="345.30" r="2.0" fill="none" stroke="#1a1a1a" stroke-width="0.85"/>
<circle cx="457.20" cy="347.20" r="2.0" fill="none" stroke="#1a1a1a" stroke-width="0.85"/>
<circle cx="460.40" cy="351.80" r="2.0" fill="none" stroke="#1a1a1a" stroke-width="0.85"/>
<circle cx="452.90" cy="353.10" r="2.0" fill="none" stroke="#1a1a1a" stroke-width="0.85"/>
<circle cx="449.20" cy="355.30" r="2.0" fill="none" stroke="#1a1a1a" stroke-width="0.85"/>
<circle cx="484.40" cy="353.90" r="2.0" fill="none" stroke="#1a1a1a" stroke-width="0.85"/>
<circle cx="423.60" cy="352.10" r="2.0" fill="none" stroke="#1a1a1a" stroke-width="0.85"/>
</g>
<g transform="matrix(1,0.001,0,1,0,0)"><text x="229.70" y="124.370" font-size="9.00" font-weight="bold" textLength="17.90" lengthAdjust="spacingAndGlyphs">Liver</text></g>
<g transform="matrix(1,0.001,0,1,0,0)"><text x="250.50" y="124.349" font-size="9.00" font-weight="bold" textLength="14.90" lengthAdjust="spacingAndGlyphs">iron</text></g>
<g transform="matrix(1,0.001,0,1,0,0)"><text x="268.40" y="124.332" font-size="9.00" font-weight="bold" textLength="22.50" lengthAdjust="spacingAndGlyphs">[µmol</text></g>
<g transform="matrix(1,0.001,0,1,0,0)"><text x="292.50" y="124.307" font-size="9.00" font-weight="bold" textLength="21.00" lengthAdjust="spacingAndGlyphs">Fe/g]</text></g>
<g transform="matrix(1,0.001,0,1,0,0)"><text x="232.40" y="250.368" font-size="9.00" font-weight="bold" textLength="26.80" lengthAdjust="spacingAndGlyphs">Urinary</text></g>
<g transform="matrix(1,0.001,0,1,0,0)"><text x="261.70" y="250.338" font-size="9.00" font-weight="bold" textLength="14.50" lengthAdjust="spacingAndGlyphs">Iron</text></g>
<g transform="matrix(1,0.001,0,1,0,0)"><text x="278.80" y="250.321" font-size="9.00" font-weight="bold" textLength="30.60" lengthAdjust="spacingAndGlyphs">[mg/24</text></g>
<g transform="matrix(1,0.001,0,1,0,0)"><text x="311.70" y="250.288" font-size="9.00" font-weight="bold" textLength="4.50" lengthAdjust="spacingAndGlyphs">h</text></g>
<g transform="matrix(1,0.001,0,1,0,0)"><text x="316.90" y="250.283" font-size="9.00" font-weight="bold" textLength="2.90" lengthAdjust="spacingAndGlyphs">]</text></g>
<g transform="matrix(1,0.001,0,1,0,0)"><text x="231.00" y="383.369" font-size="9.00" font-weight="bold" textLength="24.30" lengthAdjust="spacingAndGlyphs">Serum</text></g>
<g transform="matrix(1,0.001,0,1,0,0)"><text x="257.40" y="383.343" font-size="9.00" font-weight="bold" textLength="26.90" lengthAdjust="spacingAndGlyphs">Ferritin</text></g>
<g transform="matrix(1,0.001,0,1,0,0)"><text x="287.80" y="383.312" font-size="9.00" font-weight="bold" textLength="24.40" lengthAdjust="spacingAndGlyphs">[µg/L]</text></g>
<g transform="translate(8.4,0) rotate(-90)" font-size="9.00" font-weight="bold"><text x="-229.4" y="0" textLength="45.6" lengthAdjust="spacingAndGlyphs">Myocardial</text><text x="-179.8" y="0" textLength="14.2" lengthAdjust="spacingAndGlyphs">iron</text><text x="-163.2" y="0" textLength="36.2" lengthAdjust="spacingAndGlyphs">[µmol/g]</text></g>
</svg></body></html>
